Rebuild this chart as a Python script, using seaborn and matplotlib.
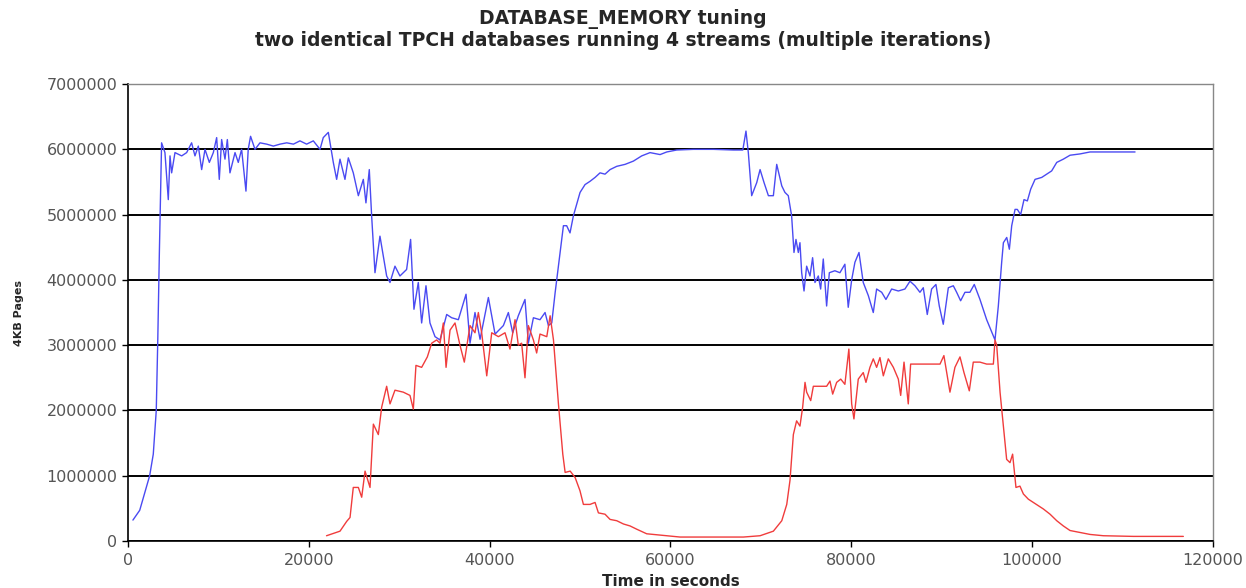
import matplotlib
matplotlib.use("Agg")
import matplotlib.pyplot as plt
import seaborn as sns
import pandas as pd
from matplotlib.ticker import MultipleLocator, FuncFormatter

# ---- data ----
blue_time = [550, 1300, 2400, 2800, 3130, 3300, 3470, 3720, 4090, 4460, 4650, 4830, 5200, 5940, 6490,
             7040, 7410, 7780, 8150, 8520, 9000, 9440, 9810, 10100, 10360, 10730, 10990,
             11280, 11840, 12200, 12570, 13050, 13300, 13560, 14050, 14600, 15340, 16080,
             16820, 17560, 18300, 19020, 19760, 20500, 21240, 21600, 22160, 22710, 23080,
             23450, 24000, 24370, 24920, 25480, 26030, 26320, 26690, 26950, 27320, 27870,
             28610, 28980, 29530, 30080, 30820, 31260, 31630, 32110, 32480, 32960, 33400,
             33960, 34510, 35250, 35800, 36540, 37390, 37830, 38380, 38940, 39860, 40600,
             41520, 42070, 42550, 43170, 43910, 44280, 44840, 45570, 46130, 46500, 46870,
             47240, 47790, 48160, 48520, 48890, 49260, 50000, 50550, 51100, 51660, 52210,
             52760, 53320, 54060, 54980, 55900, 56820, 57740, 58850, 59590, 60690, 62540,
             64750, 66960, 68000, 68350, 68610, 68980, 69540, 69910, 70350, 70830, 71380,
             71750, 72310, 72660, 73030, 73400, 73660, 73880, 74140, 74320, 74510, 74770,
             75060, 75430, 75720, 75980, 76350, 76610, 76900, 77270, 77570, 78180, 78740,
             79290, 79660, 80040, 80400, 80850, 81320, 81880, 82430, 82800, 83360, 83830,
             84460, 85200, 85930, 86490, 87040, 87590, 87960, 88400, 88880, 89360, 89730,
             90170, 90730, 91280, 91650, 92090, 92570, 93120, 93600, 94230, 94970, 95890,
             96260, 96630, 96820, 97190, 97480, 97740, 98110, 98360, 98730, 99100, 99470,
             99840, 100320, 101060, 101610, 102160, 102720, 103450, 104190, 105300, 106400,
             107510, 109350, 111380]
blue_pages = [320000, 470000, 1000000, 1330000, 2000000, 3100000, 4400000, 6100000, 5950000, 5230000, 5900000,
              5640000, 5950000, 5900000, 5950000, 6100000, 5900000, 6050000, 5690000, 6000000,
              5800000, 5950000, 6180000, 5540000, 6150000, 5850000, 6150000, 5640000, 5950000,
              5800000, 6000000, 5360000, 6000000, 6200000, 6000000, 6100000, 6080000, 6050000,
              6080000, 6100000, 6080000, 6130000, 6080000, 6130000, 6000000, 6180000, 6260000,
              5800000, 5540000, 5850000, 5540000, 5870000, 5640000, 5290000, 5540000, 5180000,
              5690000, 4980000, 4110000, 4670000, 4060000, 3960000, 4210000, 4060000, 4160000,
              4620000, 3550000, 3960000, 3340000, 3910000, 3340000, 3130000, 3080000, 3470000,
              3420000, 3390000, 3780000, 3030000, 3500000, 3090000, 3730000, 3170000, 3300000,
              3500000, 3190000, 3450000, 3700000, 3030000, 3420000, 3390000, 3500000, 3300000,
              3340000, 3800000, 4420000, 4830000, 4830000, 4720000, 4980000, 5340000, 5460000,
              5510000, 5570000, 5640000, 5620000, 5690000, 5740000, 5770000, 5820000, 5900000,
              5950000, 5920000, 5960000, 5990000, 6000000, 6000000, 5990000, 5990000, 6280000,
              5950000, 5290000, 5490000, 5690000, 5490000, 5290000, 5290000, 5770000, 5440000,
              5340000, 5290000, 4980000, 4420000, 4620000, 4420000, 4570000, 4110000, 3830000,
              4210000, 4060000, 4340000, 3960000, 4060000, 3860000, 4320000, 3600000, 4110000,
              4140000, 4110000, 4240000, 3580000, 4000000, 4270000, 4420000, 3960000, 3760000,
              3500000, 3860000, 3810000, 3700000, 3860000, 3830000, 3860000, 3980000, 3910000,
              3810000, 3880000, 3470000, 3860000, 3930000, 3600000, 3320000, 3880000, 3910000,
              3810000, 3680000, 3810000, 3810000, 3930000, 3700000, 3390000, 3080000, 3600000,
              4270000, 4570000, 4650000, 4470000, 4830000, 5080000, 5080000, 5000000, 5230000,
              5210000, 5390000, 5540000, 5570000, 5620000, 5670000, 5800000, 5850000, 5910000,
              5930000, 5960000, 5960000, 5960000, 5960000]

red_time = [21960, 23450, 24190, 24560, 24920, 25480, 25850, 26220, 26770, 27140, 27690,
            28060, 28610, 28980, 29530, 30450, 31190, 31560, 31850, 32480, 33110, 33590,
            34140, 34510, 34880, 35180, 35620, 36170, 36720, 37200, 37830, 38380, 38750,
            39120, 39680, 40230, 40970, 41700, 42250, 42810, 43170, 43540, 43910, 44280,
            44840, 45200, 45570, 46320, 46690, 47060, 47610, 48090, 48350, 48910, 49460,
            49990, 50370, 51100, 51660, 52030, 52760, 53320, 54060, 54800, 55530, 56270,
            57370, 58850, 61060, 64380, 68070, 69910, 71380, 72310, 72860, 73220, 73590,
            73950, 74320, 74620, 74880, 75060, 75510, 75800, 76720, 77270, 77640, 77940,
            78380, 78830, 79290, 79730, 80040, 80290, 80770, 81320, 81620, 82060, 82430,
            82800, 83170, 83540, 84090, 84650, 85200, 85460, 85830, 86300, 86560, 87590,
            88880, 89810, 90240, 90910, 91460, 92020, 92460, 93050, 93490, 94230, 94970,
            95710, 95890, 96080, 96450, 96740, 97180, 97550, 97840, 98210, 98650, 99030,
            99580, 100130, 100690, 101240, 101980, 102720, 103450, 104190, 105300, 106400,
            107880, 111200, 116720]
red_pages = [80000, 150000, 300000, 360000, 820000, 820000, 670000, 1070000, 820000, 1790000,
             1630000, 2050000, 2370000, 2100000, 2310000, 2280000, 2230000, 2020000, 2690000,
             2660000, 2820000, 3030000, 3080000, 3030000, 3340000, 2660000, 3230000, 3340000,
             3000000, 2740000, 3300000, 3190000, 3500000, 3190000, 2530000, 3190000, 3130000,
             3190000, 2940000, 3390000, 3000000, 3030000, 2500000, 3300000, 3080000, 2880000,
             3170000, 3130000, 3450000, 3080000, 2100000, 1330000, 1050000, 1070000, 970000,
             770000, 560000, 560000, 590000, 430000, 410000, 330000, 310000, 260000, 230000,
             180000, 110000, 90000, 60000, 60000, 60000, 80000, 150000, 310000, 560000, 930000,
             1630000, 1840000, 1760000, 2050000, 2430000, 2280000, 2150000, 2370000, 2370000,
             2370000, 2450000, 2250000, 2430000, 2480000, 2400000, 2940000, 2100000, 1870000,
             2480000, 2580000, 2430000, 2660000, 2790000, 2660000, 2810000, 2530000, 2790000,
             2660000, 2480000, 2230000, 2740000, 2100000, 2710000, 2710000, 2710000, 2710000,
             2840000, 2280000, 2660000, 2820000, 2580000, 2300000, 2740000, 2740000, 2710000,
             2710000, 3080000, 3000000, 2280000, 1870000, 1250000, 1200000, 1330000, 820000,
             840000, 720000, 640000, 590000, 540000, 490000, 410000, 310000, 230000, 160000,
             130000, 100000, 80000, 70000, 70000]

title = "DATABASE_MEMORY tuning\ntwo identical TPCH databases running 4 streams (multiple iterations)"
x_label = "Time in seconds"
y_label = "4KB Pages"

# ---- plot ----
sns.set_theme(style="white")
plt.rcParams['font.family'] = ['DejaVu Sans']

fig = plt.figure(figsize=(12.46, 5.88), dpi=100)
ax = fig.add_axes([0.1027, 0.080, 0.8708, 0.777])

df_b = pd.DataFrame({"t": blue_time, "p": blue_pages})
df_r = pd.DataFrame({"t": red_time, "p": red_pages})
sns.lineplot(data=df_b, x="t", y="p", ax=ax, color="#4a4af2", lw=1.0,
             estimator=None, sort=False, zorder=3)
sns.lineplot(data=df_r, x="t", y="p", ax=ax, color="#f03c3c", lw=1.0,
             estimator=None, sort=False, zorder=3)

ax.set_xlim(0, 120000)
ax.set_ylim(0, 7000000)
ax.xaxis.set_major_locator(MultipleLocator(20000))
ax.yaxis.set_major_locator(MultipleLocator(1000000))
ax.yaxis.set_major_formatter(FuncFormatter(lambda v, p: f"{int(v)}"))
ax.xaxis.set_major_formatter(FuncFormatter(lambda v, p: f"{int(v)}"))
ax.grid(axis="y", color="black", lw=1.4, zorder=1)
ax.grid(axis="x", visible=False)
ax.set_axisbelow(True)

for s in ["left", "bottom"]:
    ax.spines[s].set_color("black")
    ax.spines[s].set_linewidth(1.2)
for s in ["top", "right"]:
    ax.spines[s].set_color("#888888")
    ax.spines[s].set_linewidth(1.0)

ax.tick_params(axis="both", which="major", direction="out", length=4, width=1,
               color="black", labelsize=11.5, labelcolor="#555555", left=True, bottom=True)
ax.tick_params(axis="x", pad=5)

ax.set_xlabel(x_label, fontsize=11, fontweight="bold", labelpad=4)
ax.set_ylabel(y_label, fontsize=8, fontweight="bold")
ax.yaxis.set_label_coords(-0.0955, 0.5)
fig.suptitle(title, fontsize=13.5, fontweight="bold", y=0.985, x=0.5, linespacing=1.15)

fig.savefig("out.png", dpi=100, facecolor="white")
